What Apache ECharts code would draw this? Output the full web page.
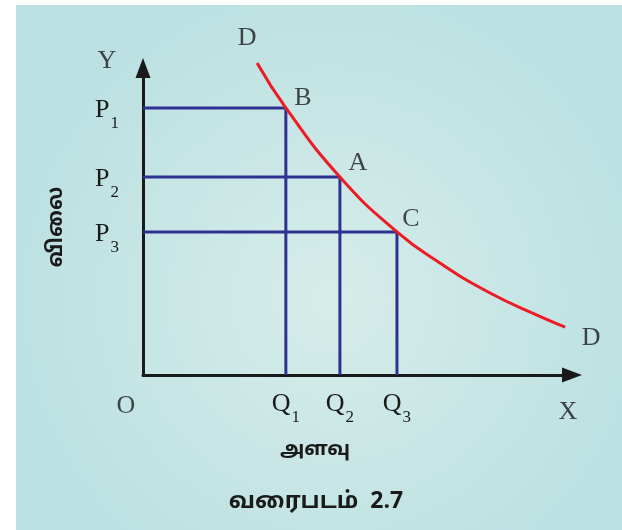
<!DOCTYPE html>
<html>
<head>
<meta charset="utf-8">
<script src="https://cdn.jsdelivr.net/npm/echarts@6/dist/echarts.min.js"></script>
<style>
  html, body { margin: 0; padding: 0; background: #fff; }
  #chart { width: 622px; height: 530px; }
</style>
</head>
<body>
<div id="chart"></div>
<script>
// demand curve D-D (quantity, price)
const curveQ = [2.66, 3.33, 4.59, 5.92, 6.92, 8.09, 9.25, 9.84];
const curveP = [10.16, 8.70, 6.45, 4.66, 3.65, 2.67, 1.91, 1.56];

// price levels P1..P3 and quantities Q1..Q3
const priceTicks = [8.70, 6.45, 4.66];
const priceSubs = ['1', '2', '3'];
const qtyTicks = [3.33, 4.59, 5.92];
const qtySubs = ['1', '2', '3'];

// points on the curve: B=(Q1,P1), A=(Q2,P2), C=(Q3,P3)
const pointNames = ['B', 'A', 'C'];

const axisMax = 10;
const serif = 'Liberation Serif';
const tamil = '"Noto Sans Tamil", "Lohit Tamil", "Noto Sans", sans-serif';
const blue = '#2e3192';
const red = '#ed1c24';

const chart = echarts.init(document.getElementById('chart'), null, { renderer: 'canvas' });

const richLabel = {
    m: { fontFamily: serif, fontSize: 26, color: '#1a1a1a', padding: [4, 0, 0, 0] },
    s: { fontFamily: serif, fontSize: 17, color: '#1a1a1a', padding: [31, 0, 0, 1] }
};

function subLabel(ticks, subs, letter) {
    return function (v) {
        const i = ticks.findIndex(t => Math.abs(t - v) < 1e-6);
        return i < 0 ? '' : '{m|' + letter + '}{s|' + subs[i] + '}';
    };
}

// dropped lines from each point to both axes
const dropSeries = pointNames.map((name, i) => ({
    type: 'line',
    data: [[0, priceTicks[i]], [qtyTicks[i], priceTicks[i]], [qtyTicks[i], 0]],
    showSymbol: false,
    lineStyle: { color: blue, width: 3 },
    z: 3,
    silent: true
}));

// text marks placed on the data
const letter = (q, p, text, dx, dy) => ({
    value: [q, p],
    label: { show: true, formatter: text, offset: [dx, dy] }
});
const pointOffsets = [[17, -10], [18, -14], [14, -13]];
const marks = pointNames.map((n, i) => letter(qtyTicks[i], priceTicks[i], n, pointOffsets[i][0], pointOffsets[i][1]));
marks.push(letter(curveQ[0], curveP[0], 'D', -10, -25));
marks.push(letter(curveQ[curveQ.length - 1], curveP[curveP.length - 1], 'D', 26, 11));
marks.push(letter(0, 0, 'O', -17, 31));
marks.push(letter(axisMax, 0, 'X', -4, 37));
marks.push(letter(0, axisMax, 'Y', -36, -7));

chart.setOption({
    animation: false,
    backgroundColor: '#ffffff',
    grid: { left: 143, right: 50, top: 68, bottom: 155, containLabel: false, outerBoundsMode: 'none' },
    graphic: [
        {
            type: 'rect', z: -10, silent: true,
            shape: { x: 16, y: 5, width: 606, height: 525 },
            style: {
                fill: {
                    type: 'radial', x: 0.52, y: 0.56, r: 0.62,
                    colorStops: [
                        { offset: 0, color: '#d6ede9' },
                        { offset: 1, color: '#bce0e2' }
                    ]
                }
            }
        },
        {
            type: 'text', silent: true,
            x: 315, y: 451,
            style: { text: 'அளவு', font: 'bold 20px ' + tamil, fill: '#1a1a1a', align: 'center', verticalAlign: 'middle' }
        },
        {
            type: 'text', silent: true,
            x: 316, y: 503,
            style: { text: 'வரைபடம்  2.7', font: 'bold 23px ' + tamil, fill: '#1a1a1a', align: 'center', verticalAlign: 'middle' }
        },
        {
            type: 'text', silent: true,
            x: 58, y: 227, rotation: Math.PI / 2,
            style: { text: 'விலை', font: 'bold 21px ' + tamil, fill: '#1a1a1a', align: 'center', verticalAlign: 'middle' }
        }
    ],
    xAxis: {
        type: 'value', min: 0, max: axisMax,
        splitLine: { show: false },
        axisTick: { show: false },
        axisLine: {
            show: true, onZero: false,
            symbol: ['none', 'triangle'], symbolSize: [15, 20],
            lineStyle: { color: '#1a1a1a', width: 3 }
        },
        axisLabel: {
            customValues: qtyTicks,
            formatter: subLabel(qtyTicks, qtySubs, 'Q'),
            margin: 3,
            rich: richLabel
        }
    },
    yAxis: {
        type: 'value', min: 0, max: axisMax,
        splitLine: { show: false },
        axisTick: { show: false },
        axisLine: {
            show: true, onZero: false,
            symbol: ['none', 'triangle'], symbolSize: [15, 20],
            lineStyle: { color: '#1a1a1a', width: 3 }
        },
        axisLabel: {
            customValues: priceTicks,
            formatter: subLabel(priceTicks, priceSubs, 'P'),
            margin: 24,
            rich: richLabel
        }
    },
    series: [
        ...dropSeries,
        {
            type: 'line',
            data: curveQ.map((q, i) => [q, curveP[i]]),
            smooth: 0.5,
            showSymbol: false,
            clip: false,
            lineStyle: { color: red, width: 3 },
            z: 4,
            silent: true
        },
        {
            type: 'scatter',
            data: marks,
            symbolSize: 0,
            clip: false,
            silent: true,
            z: 5,
            label: {
                show: true, position: 'inside',
                fontFamily: serif, fontSize: 26, color: '#1a1a1a',
                align: 'center', verticalAlign: 'middle'
            }
        }
    ]
});
</script>
</body>
</html>
